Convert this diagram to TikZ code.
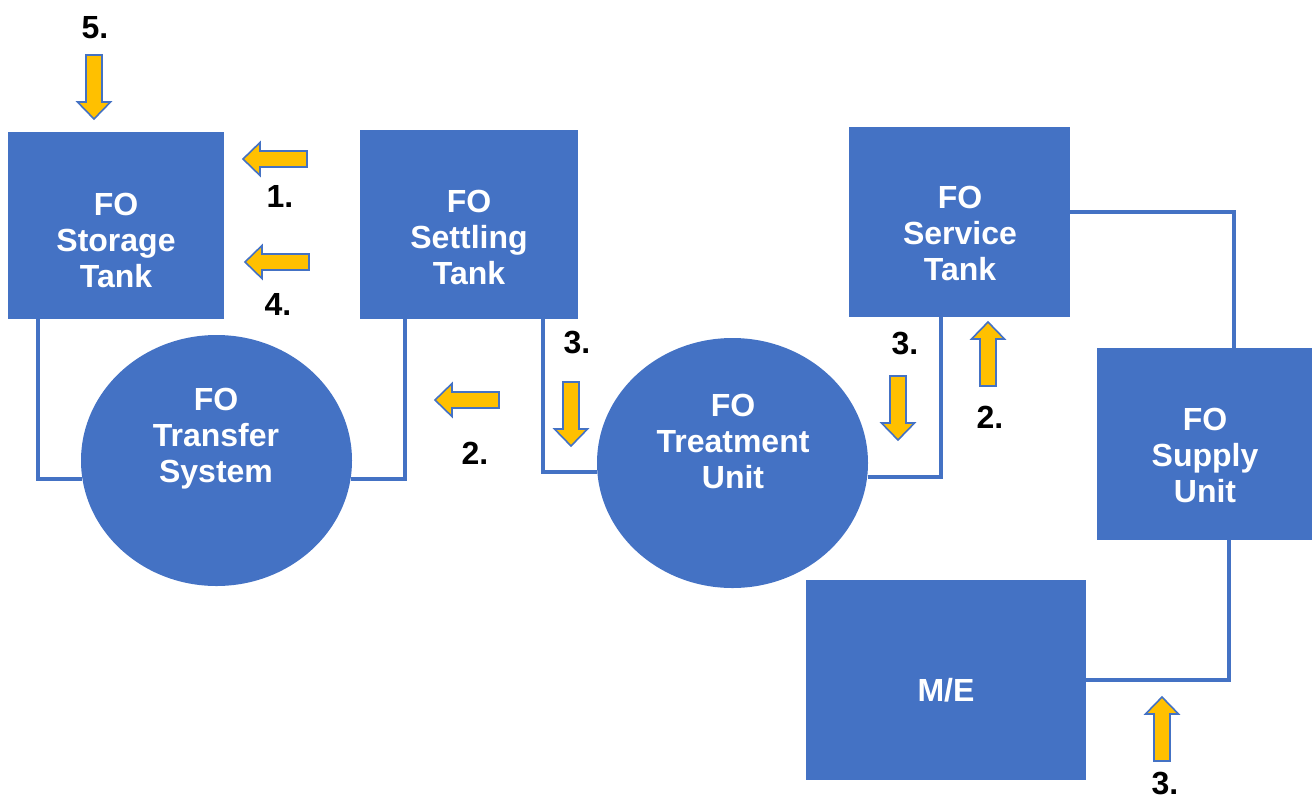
\documentclass[tikz,border=0pt]{standalone}
\usepackage{fontspec}
\setmainfont{Liberation Sans}
\usetikzlibrary{shapes.geometric}
\definecolor{unitblue}{HTML}{4472C4}
\definecolor{flowgold}{HTML}{FFC000}
\tikzset{
  unitbox/.style={rectangle, fill=unitblue, draw=none, inner sep=0pt},
  unitround/.style={ellipse, fill=unitblue, draw=none, inner sep=0pt},
  unittext/.style={text=white, font=\bfseries\fontsize{16}{18}\selectfont, align=center, inner sep=0pt},
  steplabel/.style={text=black, font=\bfseries\fontsize{16}{18}\selectfont, inner sep=0pt, text depth=0pt},
  pipe/.style={draw=unitblue, line width=2pt},
  arrowline/.style={fill=flowgold, draw=unitblue, line width=0.8pt, line join=miter},
  flowarrow/.pic={\draw[arrowline] (0,0) -- (-16.5,-17) -- (-8,-17) -- (-8,-64) -- (8,-64) -- (8,-17) -- (16.5,-17) -- cycle;}
}
\begin{document}
\begin{tikzpicture}[x=0.5pt, y=-0.5pt]
\useasboundingbox (0,0) rectangle (1312,794);

% tanks and units
\node[unitbox, minimum width=108pt, minimum height=93.5pt] (st) at (116,225.5) {};
\node[unitbox, minimum width=109pt, minimum height=94.5pt] (se) at (469,224.5) {};
\node[unitbox, minimum width=110.5pt, minimum height=95pt] (sv) at (959.5,222) {};
\node[unitbox, minimum width=107.5pt, minimum height=96pt] (su) at (1204.5,444) {};
\node[unitbox, minimum width=140pt, minimum height=100pt] (me) at (946,680) {};
\node[unitround, minimum width=135.5pt, minimum height=125.5pt] (tr) at (216.5,460.5) {};
\node[unitround, minimum width=135.5pt, minimum height=125pt] (tu) at (732.5,463) {};

% unit names
\node[unittext] (stT) at (116,240) {FO\\Storage\\Tank};
\node[unittext] (seT) at (469,237) {FO\\Settling\\Tank};
\node[unittext] (svT) at (960,233) {FO\\Service\\Tank};
\node[unittext] (trT) at (216,439) {FO\\Transfer\\System};
\node[unittext] (tuT) at (733,441) {FO\\Treatment\\Unit};
\node[unittext] (suT) at (1205,455) {FO\\Supply\\Unit};
\node[unittext] (meT) at (946,690) {M/E};

% piping
\draw[pipe] ([xshift=15pt]st.south west) |- (tr.188.5);
\draw[pipe] ([xshift=22.5pt]se.south west) |- (tr.-8.5);
\draw[pipe] ([xshift=-17.5pt]se.south east) |- (tu.184);
\draw[pipe] (tu.-6) -| ([xshift=46pt]sv.south west);
\draw[pipe] ([yshift=5pt]sv.east) -| ([xshift=14.75pt]su.north);
\draw[pipe] ([xshift=12.25pt]su.south) |- (me.east);

% flow direction arrows
\pic at (94,119) {flowarrow};
\pic[rotate=-90] at (243,159) {flowarrow};
\pic[rotate=-90] at (245,262) {flowarrow};
\pic[rotate=-90] at (435,400) {flowarrow};
\pic at (571,446) {flowarrow};
\pic at (898,440) {flowarrow};
\pic[rotate=180] at (988,322) {flowarrow};
\pic[rotate=180] at (1162,697) {flowarrow};

% step numbers
\node[steplabel] (n5) at (95,27) {5.};
\node[steplabel] (n1) at (280,196) {1.};
\node[steplabel] (n4) at (278,304) {4.};
\node[steplabel] (n2a) at (475,453) {2.};
\node[steplabel] (n3a) at (577,342) {3.};
\node[steplabel] (n3b) at (905,343) {3.};
\node[steplabel] (n2b) at (990,417) {2.};
\node[steplabel] (n3c) at (1165,783) {3.};
\end{tikzpicture}
\end{document}
